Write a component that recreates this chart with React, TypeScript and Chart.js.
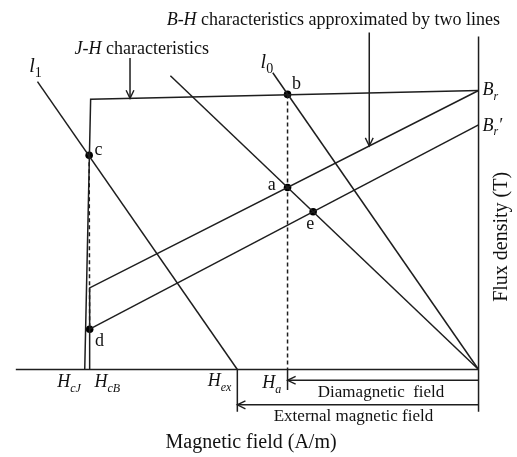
import { useEffect, useRef } from "react";
import { Chart, registerables } from "chart.js";
Chart.register(...registerables);

// Coordinates: H in kA/m (x), B in T (y)
const X_RANGE = [-964, 70];
const Y_RANGE = [-0.34, 1.488];

const axisH = [{ x: -940, y: 0 }, { x: 0, y: 0 }];
const axisB = [{ x: 0, y: 1.356 }, { x: 0, y: -0.172 }];
const jhCurve = [{ x: 0, y: 1.136 }, { x: -788, y: 1.1 }, { x: -800, y: 0 }];
const bhUpper = [{ x: 0, y: 1.136 }, { x: -790, y: 0.332 }, { x: -790, y: 0 }];
const bhLower = [{ x: 0, y: 0.996 }, { x: -790, y: 0.164 }];
const lineL1 = [{ x: -896, y: 1.172 }, { x: -490, y: 0 }];
const lineL0 = [{ x: -418, y: 1.208 }, { x: 0, y: 0 }];
const lineMid = [{ x: -626, y: 1.196 }, { x: 0, y: 0 }];
const dashHa = [{ x: -388, y: 1.12 }, { x: -388, y: 0 }];
const dashCD = [{ x: -791, y: 0.872 }, { x: -790, y: 0.164 }];
const tickHa = [{ x: -388, y: 0 }, { x: -388, y: -0.084 }];
const tickHex = [{ x: -490, y: 0 }, { x: -490, y: -0.172 }];
const arrowDia = [{ x: 0, y: -0.044 }, { x: -388, y: -0.044 }];
const arrowExt = [{ x: 0, y: -0.144 }, { x: -490, y: -0.144 }];
const arrowBH = [{ x: -222, y: 1.372 }, { x: -222, y: 0.91 }];
const arrowJH = [{ x: -708, y: 1.268 }, { x: -708, y: 1.104 }];
const markers = [
  { x: -388, y: 1.12 },
  { x: -388, y: 0.741 },
  { x: -791, y: 0.872 },
  { x: -790, y: 0.164 },
  { x: -336, y: 0.642 },
];
const arrows = [arrowDia, arrowExt, arrowBH, arrowJH];

type Seg = { t: string; it?: boolean; sub?: boolean };
type Label = { segs: Seg[]; x: number; y: number; size: number; align: "left" | "center"; rot?: boolean };

const labels: Label[] = [
  { segs: [{ t: "B-H", it: true }, { t: " characteristics approximated by two lines" }], x: -295, y: 1.428, size: 18, align: "center" },
  { segs: [{ t: "J-H", it: true }, { t: " characteristics" }], x: -684, y: 1.308, size: 18, align: "center" },
  { segs: [{ t: "l", it: true }, { t: "1", sub: true }], x: -900, y: 1.24, size: 20, align: "center" },
  { segs: [{ t: "l", it: true }, { t: "0", sub: true }], x: -430, y: 1.256, size: 20, align: "center" },
  { segs: [{ t: "b" }], x: -370, y: 1.168, size: 18, align: "center" },
  { segs: [{ t: "a" }], x: -420, y: 0.756, size: 18, align: "center" },
  { segs: [{ t: "c" }], x: -772, y: 0.896, size: 18, align: "center" },
  { segs: [{ t: "d" }], x: -770, y: 0.12, size: 18, align: "center" },
  { segs: [{ t: "e" }], x: -342, y: 0.596, size: 18, align: "center" },
  { segs: [{ t: "B", it: true }, { t: "r", it: true, sub: true }], x: 8, y: 1.14, size: 18, align: "left" },
  { segs: [{ t: "B", it: true }, { t: "r", it: true, sub: true }, { t: "\u2032", it: true }], x: 8, y: 0.996, size: 18, align: "left" },
  { segs: [{ t: "H", it: true }, { t: "cJ", it: true, sub: true }], x: -832, y: -0.048, size: 18, align: "center" },
  { segs: [{ t: "H", it: true }, { t: "cB", it: true, sub: true }], x: -754, y: -0.048, size: 18, align: "center" },
  { segs: [{ t: "H", it: true }, { t: "ex", it: true, sub: true }], x: -526, y: -0.044, size: 18, align: "center" },
  { segs: [{ t: "H", it: true }, { t: "a", it: true, sub: true }], x: -420, y: -0.052, size: 18, align: "center" },
  { segs: [{ t: "Diamagnetic  field" }], x: -198, y: -0.088, size: 17, align: "center" },
  { segs: [{ t: "External magnetic field" }], x: -254, y: -0.188, size: 17, align: "center" },
  { segs: [{ t: "Magnetic field (A/m)" }], x: -462, y: -0.292, size: 20, align: "center" },
  { segs: [{ t: "Flux density (T)" }], x: 44, y: 0.54, size: 20, align: "center", rot: true },
];

const INK = "#1e1e1e";
const FONT = '"Liberation Serif", "Times New Roman", serif';

function drawRich(ctx: CanvasRenderingContext2D, segs: Seg[], x: number, y: number, size: number, align: string) {
  const fontOf = (s: Seg) => `${s.it ? "italic " : ""}${s.sub ? Math.round(size * 0.68) : size}px ${FONT}`;
  const widths = segs.map((s) => {
    ctx.font = fontOf(s);
    return ctx.measureText(s.t).width;
  });
  const total = widths.reduce((a, b) => a + b, 0);
  let cx = align === "center" ? x - total / 2 : x;
  const base = y + size * 0.33;
  ctx.textBaseline = "alphabetic";
  ctx.textAlign = "left";
  segs.forEach((s, i) => {
    ctx.font = fontOf(s);
    ctx.fillText(s.t, cx, s.sub ? base + size * 0.25 : base);
    cx += widths[i];
  });
}

const annotPlugin = {
  id: "annot",
  afterDatasetsDraw(chart: any) {
    const ctx: CanvasRenderingContext2D = chart.ctx;
    const xs = chart.scales.x;
    const ys = chart.scales.y;
    ctx.save();
    ctx.strokeStyle = INK;
    ctx.lineWidth = 1.4;
    arrows.forEach((a) => {
      const x0 = xs.getPixelForValue(a[0].x);
      const y0 = ys.getPixelForValue(a[0].y);
      const x1 = xs.getPixelForValue(a[1].x);
      const y1 = ys.getPixelForValue(a[1].y);
      const ang = Math.atan2(y1 - y0, x1 - x0);
      const L = 9;
      ctx.beginPath();
      ctx.moveTo(x1 - L * Math.cos(ang - 0.45), y1 - L * Math.sin(ang - 0.45));
      ctx.lineTo(x1, y1);
      ctx.lineTo(x1 - L * Math.cos(ang + 0.45), y1 - L * Math.sin(ang + 0.45));
      ctx.stroke();
    });
    ctx.fillStyle = "#111";
    labels.forEach((l) => {
      const px = xs.getPixelForValue(l.x);
      const py = ys.getPixelForValue(l.y);
      if (l.rot) {
        ctx.save();
        ctx.translate(px, py);
        ctx.rotate(-Math.PI / 2);
        drawRich(ctx, l.segs, 0, 0, l.size, l.align);
        ctx.restore();
      } else {
        drawRich(ctx, l.segs, px, py, l.size, l.align);
      }
    });
    ctx.restore();
  },
};

function lineDs(data: any[], dashed = false) {
  return {
    data,
    showLine: true,
    borderColor: INK,
    borderWidth: 1.5,
    borderDash: dashed ? [4, 3] : [],
    pointRadius: 0,
    fill: false,
    tension: 0,
  };
}

export default function App() {
  const ref = useRef<HTMLCanvasElement | null>(null);
  useEffect(() => {
    if (!ref.current) return;
    const chart = new Chart(ref.current, {
      type: "scatter",
      data: {
        datasets: [
          lineDs(axisH),
          lineDs(axisB),
          lineDs(jhCurve),
          lineDs(bhUpper),
          lineDs(bhLower),
          lineDs(lineL1),
          lineDs(lineL0),
          lineDs(lineMid),
          lineDs(dashHa, true),
          lineDs(dashCD, true),
          lineDs(tickHa),
          lineDs(tickHex),
          lineDs(arrowDia),
          lineDs(arrowExt),
          lineDs(arrowBH),
          lineDs(arrowJH),
          {
            data: markers,
            showLine: false,
            pointRadius: 3.8,
            pointBackgroundColor: "#000",
            pointBorderWidth: 0,
          },
        ] as any,
      },
      options: {
        animation: false,
        responsive: false,
        maintainAspectRatio: false,
        layout: { padding: 0 },
        plugins: { legend: { display: false }, tooltip: { enabled: false } },
        events: [],
        scales: {
          x: { type: "linear", min: X_RANGE[0], max: X_RANGE[1], display: false },
          y: { type: "linear", min: Y_RANGE[0], max: Y_RANGE[1], display: false },
        },
      } as any,
      plugins: [annotPlugin],
    });
    return () => chart.destroy();
  }, []);
  return (
    <div style={{ position: "absolute", left: 0, top: 0, width: 517, height: 457, background: "#fff" }}>
      <canvas ref={ref} width={517} height={457} style={{ width: 517, height: 457 }} />
    </div>
  );
}
